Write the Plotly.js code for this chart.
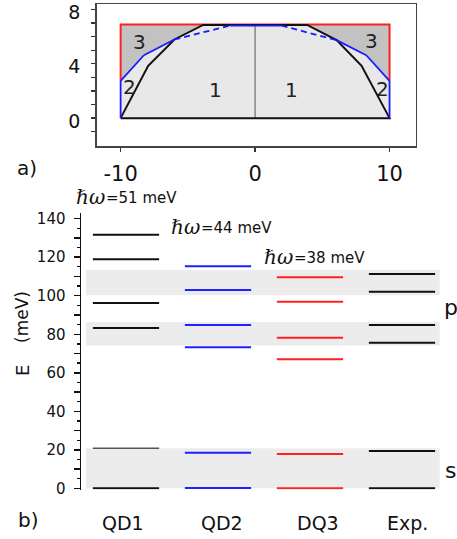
<!DOCTYPE html>
<html>
<head>
<meta charset="utf-8">
<script src="https://cdn.plot.ly/plotly-3.0.1.min.js"></script>
<style>
  html, body { margin: 0; padding: 0; background: #fff; }
  #chart { width: 457px; height: 539px; }
</style>
</head>
<body>
<div id="chart"></div>
<script>
// ---- panel a): dot cross-section (lateral position vs height) ----
const edgeX = [-10, -7.95, -6.0, -3.86, 3.87, 6.06, 7.92, 10];
const edgeY = [0, 3.85, 5.79, 6.86, 6.86, 5.74, 3.85, 0];
const capX = [-10, -10, -8.27, -6.0, -1.87, 1.97, 6.06, 8.27, 10, 10];
const capY = [0, 2.74, 4.63, 5.79, 6.81, 6.81, 5.74, 4.63, 2.74, 0];
const boxX = [-10, 10];
const boxTop = 6.9;
const boxFoot = 2.74;
const regionText = ['3', '3', '2', '2', '1', '1'];
const regionX = [-8.57, 8.66, -9.31, 9.48, -2.91, 2.71];
const regionY = [5.61, 5.68, 2.26, 2.18, 2.06, 2.06];

// ---- panel b): level energies (meV) ----
const columns = ['QD1', 'QD2', 'DQ3', 'Exp.'];
const levelsQD1 = [0, 20.8, 83.3, 96.2, 118.9, 131.7];
const levelsQD2 = [0.2, 18.5, 73.2, 84.8, 103.0, 115.3];
const levelsDQ3 = [0, 17.8, 67.0, 78.2, 96.9, 109.6];
const levelsExp = [0, 19.4, 75.6, 84.8, 102.1, 111.3];
const hbarOmega = [51, 44, 38];
const bandLow = [0, 74.2, 100.2];
const bandHigh = [20.8, 86.3, 113.3];
const bandNames = ['s', 'p'];

const W = 457, H = 539;
const px = v => v / W;
const py = v => 1 - v / H;
const FONT = 'DejaVu Sans, sans-serif';

const traces = [];
// dark gray: whole box
traces.push({
  x: [boxX[0], boxX[1], boxX[1], boxX[0]], y: [0, 0, boxTop, boxTop],
  fill: 'toself', fillcolor: '#c2c2c2', mode: 'lines', line: {width: 0},
  xaxis: 'x', yaxis: 'y', hoverinfo: 'skip'
});
// light gray: below the upper of the two profiles
const lightX = capX.slice(0, 4).concat(edgeX.slice(3, 5), capX.slice(6));
const lightY = capY.slice(0, 4).concat(edgeY.slice(3, 5), capY.slice(6));
traces.push({
  x: lightX, y: lightY, fill: 'toself', fillcolor: '#e8e8e8', mode: 'lines',
  line: {width: 0}, xaxis: 'x', yaxis: 'y', hoverinfo: 'skip'
});
// red box outline
traces.push({
  x: [boxX[0], boxX[0], boxX[1], boxX[1]], y: [boxFoot, boxTop, boxTop, boxFoot],
  mode: 'lines', line: {color: '#ff2020', width: 2}, xaxis: 'x', yaxis: 'y', hoverinfo: 'skip'
});
// center line
traces.push({
  x: [0, 0], y: [0, edgeY[3]], mode: 'lines', line: {color: '#555', width: 1},
  xaxis: 'x', yaxis: 'y', hoverinfo: 'skip'
});
// black profile with base
traces.push({
  x: edgeX.concat([edgeX[0]]), y: edgeY.concat([edgeY[0]]), mode: 'lines',
  line: {color: '#111', width: 2}, xaxis: 'x', yaxis: 'y', hoverinfo: 'skip'
});
// blue profile: solid parts and dashed parts
const dashedSeg = [3, 5];
const solidX = [], solidY = [], dashX = [], dashY = [];
for (let i = 0; i < capX.length - 1; i++) {
  const tx = dashedSeg.includes(i) ? dashX : solidX;
  const ty = dashedSeg.includes(i) ? dashY : solidY;
  tx.push(capX[i], capX[i + 1], null);
  ty.push(capY[i], capY[i + 1], null);
}
traces.push({
  x: solidX, y: solidY, mode: 'lines', line: {color: '#1a1aff', width: 1.8},
  xaxis: 'x', yaxis: 'y', hoverinfo: 'skip', connectgaps: false
});
traces.push({
  x: dashX, y: dashY, mode: 'lines', line: {color: '#1a1aff', width: 1.8, dash: '6px,4px'},
  xaxis: 'x', yaxis: 'y', hoverinfo: 'skip', connectgaps: false
});

// energy levels
const half = 0.36;
const levelSets = [levelsQD1, levelsQD2, levelsDQ3, levelsExp];
const levelColors = ['#111', '#1f1fff', '#ff2020', '#111'];
levelSets.forEach((lv, c) => {
  const xc = c + 1;
  const xs = [], ys = [], gx = [], gy = [];
  lv.forEach((e, k) => {
    const grey = (c === 0 && k === 1);
    (grey ? gx : xs).push(xc - half, xc + half, null);
    (grey ? gy : ys).push(e, e, null);
  });
  traces.push({x: xs, y: ys, mode: 'lines', line: {color: levelColors[c], width: 2},
    xaxis: 'x2', yaxis: 'y2', hoverinfo: 'skip'});
  if (gx.length) traces.push({x: gx, y: gy, mode: 'lines', line: {color: '#555', width: 1.6},
    xaxis: 'x2', yaxis: 'y2', hoverinfo: 'skip'});
});

const shapes = bandLow.map((lo, i) => ({
  type: 'rect', xref: 'x2', yref: 'y2', x0: 0.565, x1: 4.41, y0: lo, y1: bandHigh[i],
  fillcolor: '#ececec', line: {width: 0}, layer: 'below'
}));

const annotations = [];
regionText.forEach((t, i) => annotations.push({
  xref: 'x', yref: 'y', x: regionX[i], y: regionY[i], text: t, showarrow: false,
  font: {family: FONT, size: 20, color: '#222'}, xanchor: 'center', yanchor: 'middle'
}));
function pAnn(text, x, y, size, opts) {
  annotations.push(Object.assign({
    xref: 'paper', yref: 'paper', x: px(x), y: py(y), text: text, showarrow: false,
    font: {family: FONT, size: size, color: '#111'}, xanchor: 'center', yanchor: 'middle'
  }, opts || {}));
}
pAnn('a)', 27, 168, 20);
pAnn('b)', 28, 520, 20);
pAnn('(meV)', 22, 317, 17, {textangle: -90});
pAnn('E', 22, 371, 18, {textangle: -90});
// column labels
const labelPx = [123, 222, 318, 407];
columns.forEach((c, i) => pAnn(c, labelPx[i], 523, 19));
// ħω labels
const hwLeft = [75, 170, 263];
const hwMid = [198, 228, 258];
hbarOmega.forEach((v, i) => {
  annotations.push({
    xref: 'paper', yref: 'paper', x: px(hwLeft[i] - 1), y: py(hwMid[i] - 1), text: '<i>ℏω</i>',
    showarrow: false, xanchor: 'left', yanchor: 'middle',
    font: {family: 'DejaVu Serif, serif', size: 20, color: '#111'}
  });
  annotations.push({
    xref: 'paper', yref: 'paper', x: px(hwLeft[i] + 29), y: py(hwMid[i]), text: '=' + v + ' meV',
    showarrow: false, xanchor: 'left', yanchor: 'middle',
    font: {family: FONT, size: 15, color: '#111'}
  });
});
// band names on the right
annotations.push({xref: 'paper', yref: 'y2', x: px(443), y: 9.5, text: bandNames[0],
  showarrow: false, xanchor: 'left', yanchor: 'middle', font: {family: FONT, size: 22, color: '#111'}});
annotations.push({xref: 'paper', yref: 'y2', x: px(442), y: 94, text: bandNames[1],
  showarrow: false, xanchor: 'left', yanchor: 'middle', font: {family: FONT, size: 22, color: '#111'}});

const topTicks = [-1, 0, 1, 2, 3, 4, 5, 6, 7, 8];
const bottomTicks = [];
for (let v = 0; v <= 140; v += 10) bottomTicks.push(v);

const layout = {
  width: W, height: H,
  margin: {l: 0, r: 0, t: 0, b: 0},
  paper_bgcolor: '#fff', plot_bgcolor: 'rgba(0,0,0,0)',
  showlegend: false,
  xaxis: {
    domain: [px(96.7), px(415.5)], range: [-11.78, 11.93], anchor: 'y',
    showgrid: false, zeroline: false, showline: true, mirror: true,
    linecolor: '#444', linewidth: 1.5, ticks: 'outside', ticklen: 4, tickwidth: 1.3,
    tickcolor: '#333', tickvals: [-10, 0, 10], ticktext: ['-10', '0', '10'],
    tickfont: {family: FONT, size: 21, color: '#111'}, ticklabelstandoff: 4,
    ticklabeloverflow: 'allow'
  },
  yaxis: {
    domain: [py(146), py(4)], range: [-2.05, 8.4], anchor: 'x',
    showgrid: false, zeroline: false, showline: true, mirror: true,
    linecolor: '#444', linewidth: 1.5, ticks: 'outside', ticklen: 4, tickwidth: 1.3,
    tickcolor: '#333', tickvals: topTicks,
    ticktext: topTicks.map(v => (v % 4 === 0 ? String(v) : '')),
    tickfont: {family: FONT, size: 19, color: '#111'}, ticklabelstandoff: 7,
    ticklabelshift: 3, ticklabeloverflow: 'allow'
  },
  xaxis2: {
    domain: [px(81), px(443.4)], range: [0.511, 4.45], anchor: 'y2', visible: false
  },
  yaxis2: {
    domain: [py(489.5), py(212.9)], range: [-0.6, 143], anchor: 'x2',
    showgrid: false, zeroline: false, showline: true, linecolor: '#111', linewidth: 1.5,
    ticks: 'outside', ticklen: 6, tickwidth: 1.5, tickcolor: '#111',
    tickvals: bottomTicks, ticktext: bottomTicks.map(v => (v % 20 === 0 ? String(v) : '')),
    minor: {dtick: 5, ticklen: 3, tickwidth: 1.3, tickcolor: '#111', ticks: 'outside', showgrid: false},
    tickfont: {family: FONT, size: 15, color: '#111'}, ticklabelstandoff: 5,
    ticklabeloverflow: 'allow'
  },
  shapes: shapes,
  annotations: annotations
};

Plotly.newPlot('chart', traces, layout, {staticPlot: true, displayModeBar: false});
</script>
</body>
</html>
